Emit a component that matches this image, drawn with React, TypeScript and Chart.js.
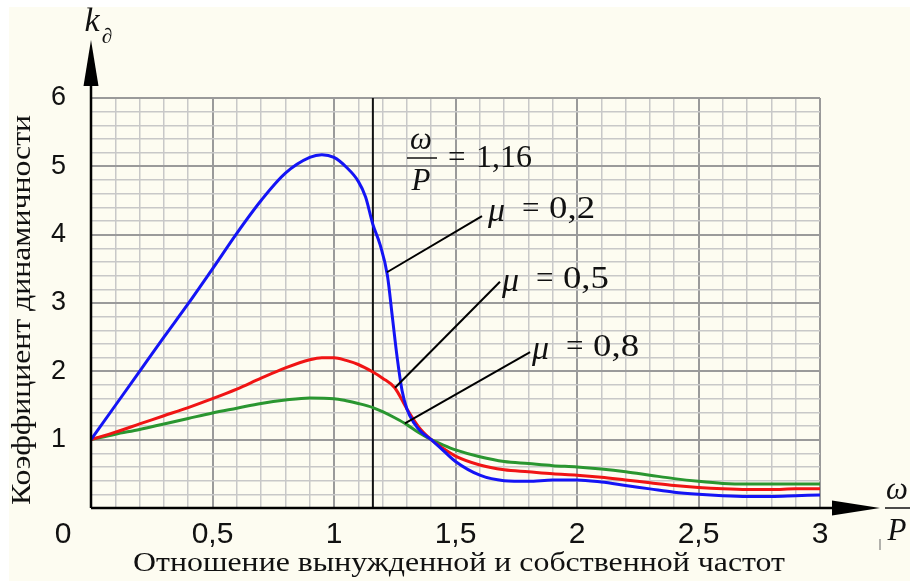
import React, { useEffect, useRef } from 'react';
import { Chart, registerables } from 'chart.js';

Chart.register(...registerables);

// ---------- data ----------
const blueX = [0, 0.1, 0.2, 0.3, 0.4, 0.5, 0.6, 0.7, 0.8, 0.9, 0.95, 1.0, 1.05, 1.1, 1.13, 1.16, 1.19, 1.22, 1.24, 1.26, 1.28, 1.3, 1.33, 1.36, 1.4, 1.45, 1.5, 1.6, 1.7, 1.8, 1.9, 2.0, 2.1, 2.2, 2.3, 2.4, 2.5, 2.6, 2.7, 2.8, 2.9, 3.0];
const blueY = [1.0, 1.5, 2.0, 2.5, 2.99, 3.5, 4.02, 4.5, 4.9, 5.13, 5.17, 5.13, 4.99, 4.78, 4.55, 4.15, 3.85, 3.4, 2.8, 2.2, 1.72, 1.45, 1.24, 1.11, 1.0, 0.84, 0.68, 0.48, 0.4, 0.39, 0.41, 0.41, 0.38, 0.33, 0.28, 0.23, 0.2, 0.18, 0.17, 0.17, 0.18, 0.19];

const redX = [0, 0.1, 0.2, 0.3, 0.4, 0.5, 0.6, 0.7, 0.8, 0.9, 0.95, 1.0, 1.05, 1.1, 1.16, 1.2, 1.25, 1.3, 1.35, 1.4, 1.45, 1.5, 1.6, 1.7, 1.8, 1.9, 2.0, 2.1, 2.2, 2.3, 2.4, 2.5, 2.6, 2.7, 2.8, 2.9, 3.0];
const redY = [1.0, 1.11, 1.23, 1.35, 1.47, 1.6, 1.74, 1.9, 2.05, 2.17, 2.2, 2.2, 2.16, 2.1, 1.99, 1.9, 1.76, 1.45, 1.18, 1.0, 0.87, 0.76, 0.63, 0.56, 0.53, 0.5, 0.48, 0.45, 0.41, 0.37, 0.33, 0.3, 0.28, 0.27, 0.27, 0.28, 0.28];

const greenX = [0, 0.1, 0.2, 0.3, 0.4, 0.5, 0.6, 0.7, 0.8, 0.9, 1.0, 1.05, 1.1, 1.16, 1.2, 1.25, 1.3, 1.35, 1.4, 1.45, 1.5, 1.6, 1.7, 1.8, 1.9, 2.0, 2.1, 2.2, 2.3, 2.4, 2.5, 2.6, 2.7, 2.8, 2.9, 3.0];
const greenY = [1.0, 1.08, 1.15, 1.23, 1.31, 1.39, 1.46, 1.53, 1.58, 1.61, 1.6, 1.57, 1.53, 1.47, 1.41, 1.32, 1.22, 1.1, 1.0, 0.92, 0.85, 0.75, 0.68, 0.65, 0.62, 0.6, 0.57, 0.53, 0.48, 0.43, 0.39, 0.36, 0.35, 0.35, 0.35, 0.35];

const seriesLabels = ['μ = 0,2', 'μ = 0,5', 'μ = 0,8'];
const muValues = ['0,2', '0,5', '0,8'];
const resonanceRatio = 1.16;
const resonanceText = '1,16';

// leader lines: [curve point x, y] -> [label point x, y]
const leaderFrom = [[1.218, 3.45], [1.251, 1.76], [1.292, 1.24]];
const leaderTo = [[1.609, 4.27], [1.683, 3.31], [1.807, 2.28]];
const labelAt = [[1.634, 4.36], [1.691, 3.34], [1.815, 2.34]];

const xTitle = 'Отношение вынужденной и собственной частот';
const yTitle = 'Коэффициент динамичности';

// ---------- style ----------
const SERIF = '"Liberation Serif", "Times New Roman", serif';
const SANS = '"Liberation Sans", Arial, sans-serif';
const CREAM = '#fdfcf1';
const BLUE = '#1414f5';
const RED = '#f01414';
const GREEN = '#2a9630';

const near = (v: number, step: number) => Math.abs(v / step - Math.round(v / step)) < 1e-6;

function fitText(ctx: CanvasRenderingContext2D, t: string, cx: number, cy: number, font: string, width: number, rot = 0) {
  ctx.save();
  ctx.font = font;
  const w = ctx.measureText(t).width;
  ctx.translate(cx, cy);
  ctx.rotate(rot);
  ctx.scale(width / w, 1);
  ctx.textAlign = 'center';
  ctx.textBaseline = 'middle';
  ctx.fillText(t, 0, 0);
  ctx.restore();
}

function text(ctx: CanvasRenderingContext2D, t: string, x: number, y: number, font: string, align: CanvasTextAlign = 'left') {
  ctx.font = font;
  ctx.textAlign = align;
  ctx.textBaseline = 'middle';
  ctx.fillText(t, x, y);
}

function fraction(ctx: CanvasRenderingContext2D, cx: number, barY: number, barL: number, barR: number) {
  ctx.fillStyle = '#111';
  text(ctx, 'ω', cx, barY - 17, `italic 31px ${SERIF}`, 'center');
  text(ctx, 'P', cx, barY + 24, `italic 31px ${SERIF}`, 'center');
  ctx.strokeStyle = '#111';
  ctx.lineWidth = 1.5;
  ctx.beginPath();
  ctx.moveTo(barL, barY);
  ctx.lineTo(barR, barY);
  ctx.stroke();
}

const decoPlugin = {
  id: 'deco',
  beforeDraw(chart: any) {
    const { ctx, width, height } = chart;
    ctx.save();
    ctx.fillStyle = '#ffffff';
    ctx.fillRect(0, 0, width, height);
    ctx.fillStyle = CREAM;
    ctx.fillRect(9, 7, width - 9, height - 7);
    ctx.restore();
  },
  beforeDatasetsDraw(chart: any) {
    const { ctx, scales } = chart;
    const xs = scales.x, ys = scales.y;
    ctx.save();
    ctx.strokeStyle = '#111';
    ctx.lineWidth = 2;
    const px = xs.getPixelForValue(resonanceRatio);
    ctx.beginPath();
    ctx.moveTo(px, ys.getPixelForValue(0));
    ctx.lineTo(px, ys.getPixelForValue(6));
    ctx.stroke();
    ctx.restore();
  },
  afterDraw(chart: any) {
    const { ctx, scales, chartArea } = chart;
    const xs = scales.x, ys = scales.y;
    const X = (v: number) => xs.getPixelForValue(v);
    const Y = (v: number) => ys.getPixelForValue(v);
    ctx.save();

    // axes
    const ox = X(0), oy = Y(0);
    ctx.strokeStyle = '#000';
    ctx.fillStyle = '#000';
    ctx.lineWidth = 2.5;
    ctx.beginPath();
    ctx.moveTo(ox, oy);
    ctx.lineTo(ox, 84);
    ctx.moveTo(ox, oy);
    ctx.lineTo(chartArea.right + 13, oy);
    ctx.stroke();
    // y arrow
    ctx.beginPath();
    ctx.moveTo(ox, 40);
    ctx.lineTo(ox - 7.5, 86);
    ctx.lineTo(ox + 7.5, 86);
    ctx.closePath();
    ctx.fill();
    // x arrow
    const ax = chartArea.right + 12;
    ctx.beginPath();
    ctx.moveTo(ax + 48, oy);
    ctx.lineTo(ax, oy - 7.5);
    ctx.lineTo(ax, oy + 7.5);
    ctx.closePath();
    ctx.fill();

    // origin label
    ctx.fillStyle = '#111';
    text(ctx, '0', 63, 535, `30px ${SANS}`, 'center');

    // k_d
    text(ctx, 'k', ox + 1, 22, `italic 34px ${SERIF}`, 'center');
    text(ctx, '∂', ox + 16, 37, `italic 21px ${SERIF}`, 'center');

    // right omega/P
    fraction(ctx, 897, 508, 885, 910);
    ctx.strokeStyle = '#666';
    ctx.lineWidth = 1;
    ctx.beginPath();
    ctx.moveTo(880, 539);
    ctx.lineTo(880, 550);
    ctx.stroke();

    // titles
    ctx.fillStyle = '#111';
    fitText(ctx, xTitle, 459, 564, `28px ${SERIF}`, 652);
    fitText(ctx, yTitle, 23, 310, `28px ${SERIF}`, 390, -Math.PI / 2);

    // omega/P = 1,16 annotation
    fraction(ctx, 421, 158, 407, 437);
    ctx.fillStyle = '#111';
    text(ctx, '=', 448, 159, `31px ${SERIF}`, 'left');
    fitText(ctx, resonanceText, 504, 159, `31px ${SERIF}`, 56);

    // leaders and mu labels
    for (let i = 0; i < seriesLabels.length; i++) {
      const [fx, fy] = leaderFrom[i];
      const [tx, ty] = leaderTo[i];
      ctx.strokeStyle = '#000';
      ctx.lineWidth = 2;
      ctx.beginPath();
      ctx.moveTo(X(fx), Y(fy));
      ctx.lineTo(X(tx), Y(ty));
      ctx.stroke();
      const lx = X(labelAt[i][0]);
      const ly = Y(labelAt[i][1]);
      ctx.fillStyle = '#111';
      text(ctx, 'μ', lx, ly + 2, `italic 34px ${SERIF}`, 'left');
      text(ctx, '=', lx + 34, ly, `31px ${SERIF}`, 'left');
      fitText(ctx, muValues[i], lx + 84, ly, `31px ${SERIF}`, 46);
    }
    ctx.restore();
  },
};

export default function App() {
  const ref = useRef<HTMLCanvasElement | null>(null);
  useEffect(() => {
    if (!ref.current) return;
    const mk = (xsArr: number[], ysArr: number[]) => xsArr.map((x, i) => ({ x, y: ysArr[i] }));
    const chart = new Chart(ref.current, {
      type: 'line',
      data: {
        datasets: [
          { label: seriesLabels[0], data: mk(blueX, blueY), borderColor: BLUE, borderWidth: 3, pointRadius: 0, cubicInterpolationMode: 'monotone' },
          { label: seriesLabels[1], data: mk(redX, redY), borderColor: RED, borderWidth: 3, pointRadius: 0, cubicInterpolationMode: 'monotone' },
          { label: seriesLabels[2], data: mk(greenX, greenY), borderColor: GREEN, borderWidth: 3, pointRadius: 0, cubicInterpolationMode: 'monotone' },
        ],
      },
      options: {
        responsive: false,
        animation: false,
        events: [],
        layout: { padding: { top: 98, right: 90, left: 0, bottom: 0 } },
        plugins: { legend: { display: false }, tooltip: { enabled: false }, title: { display: false } },
        scales: {
          x: {
            type: 'linear',
            min: 0,
            max: 3,
            afterFit: (s: any) => { s.height = 73; },
            border: { display: false },
            grid: {
              drawTicks: false,
              color: (c: any) => (near(c.tick.value, 0.5) ? '#9a9a9a' : '#c8c8c8'),
              lineWidth: (c: any) => (near(c.tick.value, 0.5) ? 2 : 1.5),
            },
            ticks: {
              stepSize: 0.1,
              autoSkip: false,
              maxRotation: 0,
              padding: 9,
              color: '#111',
              font: { family: SANS, size: 30 },
              callback: (v: any) => {
                const n = Number(v);
                if (n === 0 || !near(n, 0.5)) return '';
                return String(Math.round(n * 10) / 10).replace('.', ',');
              },
            },
          },
          y: {
            type: 'linear',
            min: 0,
            max: 6,
            afterFit: (s: any) => { s.width = 91; },
            border: { display: false },
            grid: {
              drawTicks: false,
              color: (c: any) => (near(c.tick.value, 1) ? '#9a9a9a' : '#c8c8c8'),
              lineWidth: (c: any) => (near(c.tick.value, 1) ? 2 : 1.5),
            },
            ticks: {
              stepSize: 0.2,
              autoSkip: false,
              padding: 25,
              color: '#111',
              font: { family: SANS, size: 27 },
              callback: (v: any) => {
                const n = Number(v);
                if (n === 0 || !near(n, 1)) return '';
                return String(Math.round(n));
              },
            },
          },
        },
      },
      plugins: [decoPlugin],
    } as any);
    return () => chart.destroy();
  }, []);
  return (
    <div style={{ position: 'absolute', left: 0, top: 0, width: 910, height: 581 }}>
      <canvas ref={ref} width={910} height={581} style={{ display: 'block' }} />
    </div>
  );
}
